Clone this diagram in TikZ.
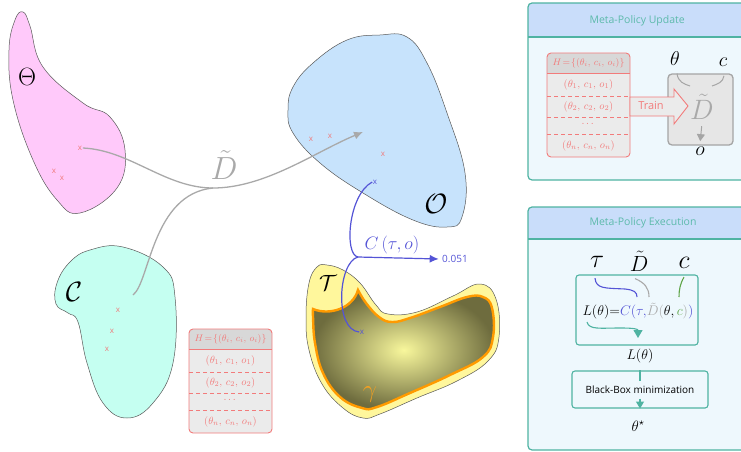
\RequirePackage{fix-cm}
\documentclass[tikz,border=0pt]{standalone}
\usepackage{amsmath,amssymb}
\usepackage{fontspec}
\setsansfont{Open Sans}
\usetikzlibrary{arrows.meta}

\definecolor{thetapink}{HTML}{FFC9FA}
\definecolor{cyanblob}{HTML}{C5FFF1}
\definecolor{oblue}{HTML}{C7E3FC}
\definecolor{tauyellow}{HTML}{FFF79C}
\definecolor{gammaor}{HTML}{FF9A00}
\definecolor{gammatxt}{HTML}{F5A020}
\definecolor{gammain}{HTML}{F8F79C}
\definecolor{gammaout}{HTML}{6E6C3E}
\definecolor{markred}{HTML}{F07A7A}
\definecolor{dgray}{HTML}{A9A9A9}
\definecolor{cblue}{HTML}{5454D6}
\definecolor{tealc}{HTML}{4FB3A2}
\definecolor{ptitlec}{HTML}{5DBAAB}
\definecolor{panelhead}{HTML}{C9DDFA}
\definecolor{panelbody}{HTML}{EEF8FD}
\definecolor{histred}{HTML}{F27B7B}
\definecolor{histbody}{HTML}{EBEBEB}
\definecolor{histhead}{HTML}{D8D8D8}
\definecolor{cgreen}{HTML}{5FA548}
\definecolor{boxfill}{HTML}{E6E6E6}
\definecolor{boxline}{HTML}{A5A5A5}

\newcommand{\fsz}[1]{\fontsize{#1}{#1}\selectfont}
\newcommand{\Dt}{{\tilde{D}}}
% history table, top left corner at the origin of the scope
\newcommand{\histtable}[1]{%
  \fill[histbody, rounded corners=4pt] (0,0) rectangle (83,104);
  \begin{scope}
    \clip[rounded corners=4pt] (0,0) rectangle (83,104);
    \fill[histhead] (0,0) rectangle (83,20);
  \end{scope}
  \draw[histrule] (0,20) -- (83,20);
  \foreach \yy in {43,64,81}
    \draw[histrule, dash pattern=on 4pt off 3pt] (0,\yy) -- (83,\yy);
  \draw[histrule, rounded corners=4pt] (0,0) rectangle (83,104);
  \node[histtxt, font=\fsz{9.5}] (#1h) at (41.5,10) {$H\!=\!\{(\theta_i,\,c_i,\,o_i)\}$};
  \node[histtxt] (#1a) at (41.5,31.5) {$(\theta_1,\,c_1,\,o_1)$};
  \node[histtxt] (#1b) at (41.5,53.5) {$(\theta_2,\,c_2,\,o_2)$};
  \node[histtxt] (#1c) at (41.5,71) {$\dots$};
  \node[histtxt] (#1n) at (41.5,92.5) {$(\theta_n,\,c_n,\,o_n)$};
}

\begin{document}
\begin{tikzpicture}[x=1pt,y=-1pt,
  blob/.style={draw=black!65, line width=0.5pt},
  xmark/.style={text=markred, font=\sffamily\fsz{8}, inner sep=0.5pt},
  dline/.style={draw=dgray, line width=1.3pt},
  cline/.style={draw=cblue, line width=1.2pt},
  histrule/.style={draw=histred, line width=0.9pt},
  histtxt/.style={text=histred, font=\fsz{10.5}, inner sep=0pt},
  panel/.style={draw=tealc, line width=1.2pt, rounded corners=4pt},
  ptitle/.style={text=ptitlec, font=\sffamily\fsz{10.5}, anchor=west},
  gline/.style={draw=boxline, line width=1pt},
  tline/.style={draw=tealc, line width=1.1pt},
  ebox/.style={draw=tealc, line width=1.1pt, rounded corners=3pt},
]
\useasboundingbox (0,0) rectangle (741,452);

% spaces
\draw[blob, fill=thetapink] plot[smooth cycle, tension=0.7] coordinates {
  (23,12) (30,26) (43,67) (83,103) (110,117) (125,150) (117,188) (80,213)
  (57,200) (33,160) (13,100) (9,50) (15,20)};
\node[font=\fsz{25}] (Th) at (27,77) {$\Theta$};

\draw[blob, fill=cyanblob] plot[smooth cycle, tension=0.7] coordinates {
  (70,262) (90,250) (123,247) (163,267) (175,297) (173,363) (153,403)
  (127,418) (103,403) (87,363) (78,322) (68,313) (56,304) (57,283)};
\node[font=\fsz{28}] (Cs) at (74,292) {$\mathcal{C}$};

\draw[blob, fill=oblue] plot[smooth cycle, tension=0.7] coordinates {
  (380,35) (407,37) (427,63) (447,113) (465,173) (462,217) (447,227)
  (413,220) (363,193) (320,163) (293,133) (288,110) (293,87) (313,63) (347,40)};
\node[font=\fsz{28}] (Os) at (436,204) {$\mathcal{O}$};

\draw[blob, fill=tauyellow] plot[smooth cycle, tension=0.7] coordinates {
  (317,267) (327,265) (343,270) (360,283) (376,305) (388,314) (417,312)
  (453,296) (480,284) (496,299) (499,337) (488,361) (457,381) (417,398)
  (380,414) (363,418) (343,408) (322,384) (309,350) (306,317) (309,283)};
\shadedraw[draw=gammaor, line width=2.4pt, inner color=gammain, outer color=gammaout]
  plot[smooth, tension=0.7] coordinates {
  (358,290) (366,303) (379,317) (392,322) (410,318) (440,307) (467,297)
  (483,297) (492,308) (493,337) (483,357) (450,375) (410,393) (377,407)
  (362,408) (340,397) (323,373) (315,343) (313,317) (313,309)}
  .. controls (330,316) and (353,308) .. (358,290) -- cycle;
\node[font=\fsz{22}] (Ts) at (328,283) {$\mathcal{T}$};
\node[font=\fsz{25}, text=gammatxt] (gam) at (370,395) {$\gamma$};

% samples
\node[xmark] (th1) at (80,148) {x};
\node[xmark] (th2) at (54,171) {x};
\node[xmark] (th3) at (62,178) {x};
\node[xmark] (c1) at (118,310) {x};
\node[xmark] (c2) at (112,331) {x};
\node[xmark] (c3) at (107,349) {x};
\node[xmark] (o1) at (311,139) {x};
\node[xmark] (o2) at (330,136) {x};
\node[xmark] (o3) at (383,154) {x};
\node[xmark, text=cblue] (ox) at (375,182) {x};
\node[xmark, text=cblue] (tx) at (362,332) {x};

% surrogate
\coordinate (djoin) at (213,188);
\coordinate (dtip) at (363,132);
\coordinate (cstart) at (133,295);
\draw[dline, -{Latex[length=9pt,width=8pt]}] (th1.east) .. controls (130,150) and (165,188) .. (djoin)
  .. controls (265,188) and (315,152) .. (dtip);
\draw[dline] (cstart) .. controls (150,282) and (152,194) .. (djoin);
\node[font=\fsz{32}, text=dgray] (Dl) at (224,165) {$\Dt$};

% cost
\coordinate (junc) at (358,257);
\node[text=cblue, font=\sffamily\fsz{10}] (val) at (455,259) {0.051};
\draw[cline] (ox.west) .. controls (348,195) and (344,255) .. (junc);
\draw[cline] (tx.west) .. controls (334,330) and (338,262) .. (junc);
\draw[cline, -{Latex[length=9pt,width=8pt]}] (junc) -- (val.west);
\node[text=cblue, font=\fsz{18}] (cto) at (392,245) {$C\,(\tau,o)$};

\begin{scope}[shift={(189,329)}]
  \histtable{b}
\end{scope}

% meta-policy update
\fill[panelbody, rounded corners=4pt] (528,3) rectangle (760,180);
\begin{scope}
  \clip[rounded corners=4pt] (528,3) rectangle (760,180);
  \fill[panelhead] (528,3) rectangle (760,37);
\end{scope}
\draw[tline, line width=1.2pt] (528,37) -- (760,37);
\draw[panel] (528,3) rectangle (760,180);
\node[ptitle] (upd) at (586,21) {Meta-Policy Update};

\begin{scope}[shift={(547,53)}]
  \histtable{u}
\end{scope}

\node[draw=boxline, line width=1.3pt, fill=boxfill, rounded corners=4pt,
  minimum width=65pt, minimum height=71pt] (dbox) at (700.5,109.5) {};
\draw[histrule, fill=histbody] (630,97) -- (674,97) -- (674,89) -- (688,106)
  -- (674,124) -- (674,116) -- (630,116) -- cycle;
\node[text=histred, font=\sffamily\fsz{11}] (train) at (651,106) {Train};
\node[font=\fsz{28}, text=dgray] (dsym) at (702,107) {$\Dt$};
\node[font=\fsz{20}] (thu) at (675,59) {$\theta$};
\node[font=\fsz{20}] (cu) at (723,62) {$c$};
\node[font=\fsz{20}] (ou) at (700,151) {$o$};
\draw[gline] ([xshift=2pt,yshift=-4pt]thu.south) .. controls (678,82) and (684,84) .. (690,86);
\draw[gline] ([xshift=1pt,yshift=-6pt]cu.south) .. controls (723,82) and (718,84) .. (712,86);
\draw[gline, -{Triangle[length=7pt,width=8pt]}, shorten <=3pt, shorten >=2pt] (dsym.south) -- (ou.north);

% meta-policy execution
\fill[panelbody, rounded corners=4pt] (528,207) rectangle (760,450);
\begin{scope}
  \clip[rounded corners=4pt] (528,207) rectangle (760,450);
  \fill[panelhead] (528,207) rectangle (760,239);
\end{scope}
\draw[tline, line width=1.2pt] (528,239) -- (760,239);
\draw[panel] (528,207) rectangle (760,450);
\node[ptitle] (exe) at (586,223) {Meta-Policy Execution};

\node[font=\fsz{26}] (tau2) at (597,262) {$\tau$};
\node[font=\fsz{22}] (dt2) at (639,261) {$\Dt$};
\node[font=\fsz{26}] (c2) at (684,263) {$c$};
\node[ebox, minimum width=122pt, minimum height=70pt] (ebox) at (637,310) {};
\node[font=\fsz{14}, inner sep=0pt] (eq) at (638,311)
  {$L(\theta){=}\textcolor{cblue}{C(\tau,}\textcolor{dgray}{\Dt(}\theta,\textcolor{cgreen}{c}\textcolor{dgray}{)}\textcolor{cblue}{)}$};
\coordinate (eblue) at (637,297);
\coordinate (egray) at (649,297);
\coordinate (egreen) at (679,297);
\draw[cblue, line width=1.1pt] ([xshift=-2pt,yshift=-7pt]tau2.south) .. controls (596,289) and (605,288) .. (625,289)
  .. controls (634,290) and (637,292) .. (eblue);
\draw[dgray, line width=1.1pt] ([xshift=-4pt,yshift=-4pt]dt2.south) .. controls (645,283) and (649,288) .. (egray);
\draw[cgreen, line width=1.1pt] ([yshift=-5pt]c2.south) .. controls (680,284) and (679,290) .. (egreen);
\coordinate (lstart) at (587,322);
\coordinate (lend) at (638,338);
\draw[tline, -{Triangle[length=8pt,width=9pt]}] (lstart) .. controls (589,330) and (600,328) .. (620,328)
  .. controls (634,328) and (638,329) .. (lend);
\node[font=\fsz{14}] (lth) at (640,356) {$L(\theta)$};
\node[ebox, minimum width=136pt, minimum height=37pt, font=\sffamily\fsz{10}] (bb) at (640,389.5) {Black-Box minimization};
\draw[tline] (bb.north) -- ++(0,11);
\draw[tline, -{Triangle[length=7pt,width=8pt]}] ([yshift=10pt]bb.south) -- (bb.south);
\node[font=\fsz{15}] (ths) at (638,426) {$\theta^{\star}$};
\end{tikzpicture}
\end{document}
